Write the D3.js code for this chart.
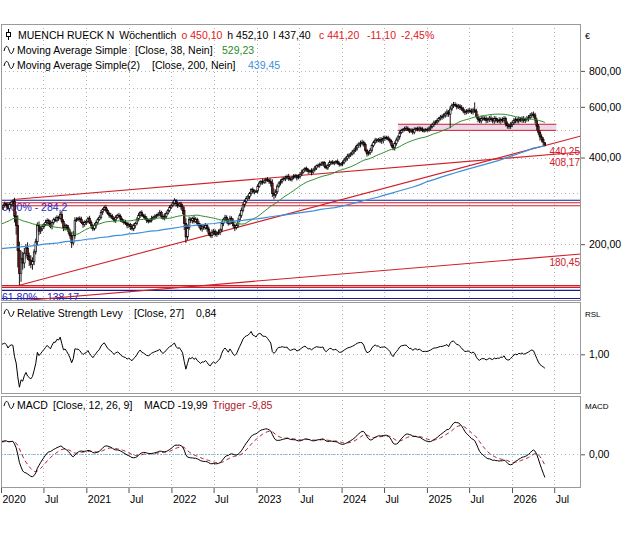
<!DOCTYPE html>
<html>
<head>
<meta charset="utf-8">
<script src="https://cdn.jsdelivr.net/npm/d3@7"></script>
<style>
  body { margin: 0; background: #fff; }
  text { font-family: "Liberation Sans", Arial, sans-serif; }
</style>
</head>
<body>
<div id="chart"></div>
<script>
// weekly closes, one per Friday starting 2020-01-03
const closes = [
  // 2020
  268, 272, 276, 274, 266, 275, 280, 282, 250, 232, 190, 158, 178,
  172, 186, 194, 182, 176, 170, 174, 188, 204, 232, 222, 226, 230,
  234, 238, 242, 236, 230, 238, 244, 242, 248, 246, 254, 240, 228,
  232, 228, 222, 214, 202, 214, 242, 244, 246, 244, 238, 234, 238,
  // 2021
  240, 246, 238, 232, 226, 232, 238, 244, 248, 258, 264, 268, 262,
  256, 252, 250, 246, 242, 248, 252, 250, 244, 240, 238, 236, 232,
  234, 230, 226, 232, 236, 244, 252, 258, 252, 250, 246, 242, 240,
  242, 246, 248, 250, 252, 254, 258, 250, 246, 250, 256, 262, 268, 272,
  // 2022
  278, 284, 276, 272, 276, 270, 262, 236, 212, 228, 244, 242,
  246, 240, 244, 236, 232, 226, 230, 228, 232, 226, 218, 214, 220,
  222, 216, 218, 220, 224, 236, 244, 248, 242, 236, 246, 240, 232, 228,
  232, 242, 252, 262, 274, 282, 288, 292, 300, 310, 304, 306, 306,
  // 2023
  318, 326, 330, 328, 332, 336, 334, 330, 326, 300, 296, 304, 318,
  326, 330, 336, 338, 340, 344, 338, 336, 340, 344, 346, 340, 344,
  350, 356, 362, 366, 362, 358, 360, 356, 362, 368, 374, 376, 378,
  380, 384, 372, 368, 376, 384, 386, 382, 384, 388, 382, 378, 380,
  // 2024
  384, 392, 398, 404, 408, 412, 418, 424, 432, 440, 446, 450, 452,
  444, 424, 412, 416, 424, 440, 452, 460, 458, 462, 456, 462, 466,
  470, 468, 462, 456, 440, 432, 448, 460, 472, 488, 496, 500, 504,
  506, 500, 494, 498, 490, 500, 504, 500, 506, 502, 496, 498, 500,
  // 2025
  500, 506, 512, 520, 528, 532, 538, 546, 552, 556, 562, 568, 576,
  566, 590, 606, 612, 608, 600, 604, 596, 590, 580, 574, 578, 584,
  580, 576, 586, 580, 556, 542, 536, 546, 548, 546, 538, 542, 548,
  542, 536, 546, 538, 540, 536, 542, 538, 546, 524, 516, 512, 520,
  // 2026
  528, 538, 542, 536, 544, 540, 546, 538, 542, 546, 552, 560, 566,
  562, 540, 514, 490, 472, 462, 452.3, 441.2
];

// how far each week's high reached above its body, in euro
const wickUp = [
  4, 3, 5, 3, 6, 4, 3, 4, 8, 10, 20, 14, 12, 10, 8, 6, 9, 5, 7, 6, 4, 5, 6, 8, 5, 4,
  3, 5, 4, 3, 6, 4, 3, 5, 4, 3, 5, 7, 4, 4, 3, 5, 4, 6, 8, 6, 4, 3, 4, 5, 3, 4,
  4, 3, 5, 4, 3, 5, 4, 3, 4, 5, 3, 4, 6, 4, 3, 5, 4, 3, 4, 3, 5, 4, 3, 4, 5, 3,
  4, 3, 5, 4, 3, 4, 5, 3, 4, 3, 5, 4, 3, 4, 5, 3, 4, 3, 4, 5, 3, 4, 6, 4, 3, 5, 4,
  4, 5, 3, 6, 4, 5, 6, 8, 10, 6, 5, 4, 3, 5, 4, 3, 5, 4, 3, 4, 5, 3, 4, 3, 5, 4,
  3, 4, 5, 3, 4, 3, 5, 4, 3, 5, 4, 6, 3, 4, 5, 4, 6, 5, 4, 6, 5, 4, 3, 5, 4, 3,
  5, 6, 4, 7, 5, 4, 6, 5, 8, 10, 7, 6, 5, 4, 6, 5, 4, 6, 5, 7, 4, 5, 6, 5, 4, 6,
  5, 7, 4, 5, 6, 5, 4, 7, 5, 6, 4, 5, 6, 7, 5, 4, 6, 5, 7, 4, 6, 5, 4, 6, 5, 4,
  6, 7, 5, 8, 6, 5, 7, 6, 8, 7, 6, 8, 9, 6, 7, 5, 6, 8, 7, 6, 8, 7, 6, 9, 8, 10,
  7, 6, 8, 7, 6, 8, 7, 9, 6, 8, 7, 6, 8, 9, 7, 6, 8, 7, 9, 6, 8, 7, 6, 8, 7, 6,
  8, 7, 9, 8, 10, 7, 9, 8, 10, 9, 8, 10, 12, 9, 14, 10, 9, 11, 8, 10, 9, 12, 10, 8, 11, 9,
  10, 12, 9, 8, 11, 10, 9, 12, 10, 8, 11, 9, 10, 12, 9, 11, 10, 8, 12, 9, 10, 11, 9, 10, 8, 11,
  9, 11, 10, 8, 12, 9, 10, 11, 9, 12, 10, 11, 9, 12, 10, 11, 9, 8, 10, 9, 0
];
// how far each week's low reached below its body, in euro
const wickDown = [
  3, 5, 4, 6, 3, 5, 4, 3, 12, 16, 24, 14, 10, 9, 7, 8, 6, 8, 5, 7, 5, 4, 6, 7, 5, 4,
  4, 3, 5, 4, 3, 5, 4, 3, 4, 5, 3, 4, 6, 5, 4, 6, 5, 8, 4, 5, 3, 4, 5, 3, 6, 4,
  5, 4, 3, 6, 4, 3, 5, 4, 3, 4, 5, 3, 4, 3, 5, 4, 3, 4, 5, 3, 4, 5, 3, 4, 3, 5,
  4, 6, 3, 4, 5, 3, 4, 5, 3, 4, 3, 5, 4, 3, 4, 3, 5, 4, 3, 4, 5, 3, 4, 5, 3, 4, 3,
  3, 4, 6, 5, 3, 6, 8, 12, 10, 5, 4, 5, 6, 4, 3, 5, 4, 3, 5, 4, 3, 5, 4, 3, 4, 5,
  3, 4, 3, 5, 4, 5, 3, 6, 4, 3, 5, 4, 6, 3, 4, 3, 5, 4, 6, 5, 4, 6, 5, 4, 6, 5,
  6, 4, 5, 6, 4, 7, 5, 6, 9, 8, 10, 6, 5, 4, 6, 5, 4, 7, 5, 6, 5, 6, 4, 5, 7, 4,
  6, 5, 4, 6, 5, 7, 6, 9, 5, 4, 6, 5, 7, 4, 6, 5, 4, 6, 5, 7, 4, 6, 5, 4, 6, 5,
  7, 5, 6, 8, 7, 6, 5, 8, 6, 9, 8, 12, 10, 8, 7, 9, 6, 7, 8, 6, 7, 8, 6, 7, 10, 14,
  9, 7, 6, 8, 7, 6, 9, 8, 7, 10, 6, 8, 7, 9, 6, 8, 7, 9, 8, 6, 7, 8, 9, 6, 8, 7,
  9, 8, 10, 7, 9, 8, 10, 9, 8, 11, 10, 12, 14, 12, 9, 10, 11, 9, 12, 10, 11, 9, 10, 12, 9, 11,
  8, 10, 12, 9, 10, 12, 9, 11, 10, 9, 12, 10, 11, 9, 10, 12, 9, 11, 10, 12, 9, 10, 11, 12, 10, 9,
  10, 9, 12, 10, 11, 9, 12, 10, 11, 9, 12, 10, 11, 12, 14, 16, 12, 14, 10, 12, 0
];

// 2019 weekly closes, only used to warm up the indicators
const warmup2019 = [
  192, 195, 198, 196, 200, 203, 206, 204, 208, 210, 212, 210, 211,
  214, 218, 224, 226, 222, 218, 216, 214, 218, 220, 222, 221, 221,
  223, 226, 224, 222, 216, 212, 210, 214, 218, 226, 232, 238, 240,
  242, 244, 246, 250, 256, 262, 264, 266, 264, 262, 258, 262, 264
];

// weeks with extreme wicks: [week, high, low]
const wicks = [
  ["2020-02-21", 286, 270], ["2020-03-20", 186, 144], ["2022-03-04", 240, 205],
  ["2023-03-17", 312, 288], ["2024-08-09", 446, 424], ["2025-04-11", 596, 506],
  ["2025-04-25", 624, 600], ["2025-07-25", 622, 572]
];
const lastCandle = { open: 450.10, high: 452.10, low: 437.40, close: 441.20 };

// 200 week average, read monthly from Jan 2020 to May 2026
const sma200Monthly = [
  193, 194, 195, 196, 197, 198, 200, 201, 202, 204, 205, 206,
  208, 209, 211, 212, 214, 215, 217, 218, 220, 222, 223, 225,
  227, 229, 231, 232, 234, 235, 236, 238, 239, 241, 242, 244,
  245, 247, 249, 251, 253, 255, 257, 259, 261, 264, 266, 268,
  271, 275, 279, 283, 287, 291, 296, 301, 306, 311, 316, 322,
  330, 336, 342, 348, 354, 360, 366, 372, 378, 384, 390, 398,
  406, 414, 422, 431, 439.45
];

const priceTicks = [200, 400, 600, 800];
const priceGrid = [200, 300, 400, 500, 600, 700, 800];
const rslTicks = [1];
const macdTicks = [0];

const supportLines = [278.6, 272.0, 143.5, 141.6];
const fibLines = [284.2, 138.17, 129.5];
const fibLabels = [[284.2, "0,00% - 284,2"], [138.17, "61,80% - 138,17"]];
const zone = { from: "2024-08-30", to: "2026-07-10", low: 497, high: 522 };
const trendLines = [
  { from: "2020-02-21", v0: 286, to: "2026-05-22", v1: 408.17, label: "408,17" },
  { from: "2020-03-20", v0: 144, to: "2026-05-22", v1: 440.25, label: "440,25" },
  { from: "2020-01-03", v0: 125.5, to: "2026-05-22", v1: 180.45, label: "180,45" }
];

// ---- setup
const W = 640, H = 533;
const left = 1, right = 581;
const panels = { price: [24, 300], rsl: [302, 393], macd: [396, 487] };
const FS = 10.5;
const red = "#e02020", darkRed = "#b0202a", green = "#2a8a2a", blue = "#3d8fdc";
const parse = d3.timeParse("%Y-%m-%d");
const firstWeek = new Date(2020, 0, 3);
const weekDate = i => new Date(2020, 0, 3 + 7 * i);
const weekIndex = d => Math.round((d - firstWeek) / (7 * 864e5));
const locale = d3.formatLocale({ decimal: ",", thousands: ".", grouping: [3], currency: ["", ""] });
const fmt2 = locale.format(".2f");

const x = d3.scaleTime().domain([new Date(2020, 0, 1), new Date(2026, 0, 1)]).range([1, 512]);
const y = d3.scaleLog().domain([100, 1000]).range([330.8, 43.0]);
const yR = d3.scaleLinear().domain([0.6, 1.5]).range([389.3, 310.55]);
const yM = d3.scaleLinear().domain([-30, 40]).range([486.85, 410.9]);

// ---- candles
const wickByWeek = {};
for (const [d, h, l] of wicks) wickByWeek[weekIndex(parse(d))] = [h, l];
const candles = closes.map((c, i) => {
  const open = i ? closes[i - 1] : warmup2019[warmup2019.length - 1];
  const w = wickByWeek[i];
  let high = Math.max(open, c) + wickUp[i], low = Math.min(open, c) - wickDown[i];
  if (w) { high = Math.max(high, w[0]); low = Math.min(low, w[1]); }
  return { date: weekDate(i), open, close: c, high, low };
});
Object.assign(candles[candles.length - 1], lastCandle);

// ---- indicators from the closes
const all = warmup2019.concat(closes);
const off = warmup2019.length;
const smaAt = (n, i) => d3.mean(all.slice(i - n + 1, i + 1));
const ema = (arr, n) => { const k = 2 / (n + 1); let e; return arr.map((v, i) => (e = i ? e + k * (v - e) : v)); };
const sma38 = closes.map((c, i) => ({ date: weekDate(i), v: smaAt(38, i + off) }));
const rsl = closes.map((c, i) => ({ date: weekDate(i), v: c / smaAt(27, i + off) }));
const e12 = ema(all, 12), e26 = ema(all, 26);
const macdAll = all.map((v, i) => e12[i] - e26[i]);
const trigAll = ema(macdAll, 9);
const macd = closes.map((c, i) => ({ date: weekDate(i), v: macdAll[i + off], t: trigAll[i + off] }));
const sma200 = sma200Monthly.map((v, i) => ({
  date: i === sma200Monthly.length - 1 ? weekDate(closes.length - 1) : new Date(2020, i, 3), v
}));

// ---- svg
const svg = d3.select("#chart").append("svg").attr("width", W).attr("height", H);
svg.append("rect").attr("width", W).attr("height", H).attr("fill", "#fff");
const defs = svg.append("defs");
for (const [k, [t, b]] of Object.entries(panels)) {
  defs.append("clipPath").attr("id", "clip-" + k)
    .append("rect").attr("x", left).attr("y", t).attr("width", right - left).attr("height", b - t);
}
const gP = svg.append("g").attr("clip-path", "url(#clip-price)");
const gR = svg.append("g").attr("clip-path", "url(#clip-rsl)");
const gM = svg.append("g").attr("clip-path", "url(#clip-macd)");

// grid
const tickDates = d3.timeMonth.every(6).range(new Date(2020, 0, 1), new Date(2026, 7, 1));
const gridStyle = sel => sel.attr("stroke", "#b4b4b4").attr("stroke-width", 1).attr("stroke-dasharray", "1,3");
for (const [g, k] of [[gP, "price"], [gR, "rsl"], [gM, "macd"]]) {
  const [t, b] = panels[k];
  g.append("g").selectAll("line").data(tickDates).join("line")
    .attr("x1", d => Math.round(x(d)) + 0.5).attr("x2", d => Math.round(x(d)) + 0.5)
    .attr("y1", t).attr("y2", b).call(gridStyle);
}
const hGrid = (g, vals, sc) => g.append("g").selectAll("line").data(vals).join("line")
  .attr("x1", left).attr("x2", right)
  .attr("y1", d => Math.round(sc(d)) + 0.5).attr("y2", d => Math.round(sc(d)) + 0.5)
  .call(gridStyle);
hGrid(gP, priceGrid, y);
hGrid(gR, rslTicks, yR);
hGrid(gM, macdTicks, yM);

// resistance zone
gP.append("rect")
  .attr("x", x(parse(zone.from))).attr("width", x(parse(zone.to)) - x(parse(zone.from)))
  .attr("y", y(zone.high)).attr("height", y(zone.low) - y(zone.high))
  .attr("fill", "#ecd8ec");
gP.append("g").selectAll("line").data([zone.high, zone.low]).join("line")
  .attr("x1", x(parse(zone.from))).attr("x2", x(parse(zone.to)))
  .attr("y1", d => y(d)).attr("y2", d => y(d))
  .attr("stroke", "#d0202a").attr("stroke-width", 1);

// horizontal lines
gP.append("g").selectAll("line").data(supportLines).join("line")
  .attr("x1", left).attr("x2", right).attr("y1", d => y(d)).attr("y2", d => y(d))
  .attr("stroke", "#d0202a").attr("stroke-width", 1.2);
gP.append("g").selectAll("line").data(fibLines).join("line")
  .attr("x1", left).attr("x2", right).attr("y1", d => y(d)).attr("y2", d => y(d))
  .attr("stroke", "#1a1a9a").attr("stroke-width", 1.2);
gP.append("g").selectAll("text").data(fibLabels).join("text")
  .attr("x", 2).attr("y", d => y(d[0]) + 11).attr("font-size", FS).attr("fill", "#2828c8")
  .text(d => d[1]);

// trend lines, extended to the right border
const trendPts = trendLines.map(t => {
  const x1 = x(parse(t.from)), y1 = y(t.v0), x2 = x(parse(t.to)), y2 = y(t.v1);
  const s = (y2 - y1) / (x2 - x1);
  return { ...t, x1, y1, xe: right, ye: y1 + s * (right - x1), yl: y2 };
});
gP.append("g").selectAll("line").data(trendPts).join("line")
  .attr("x1", d => d.x1).attr("y1", d => d.y1).attr("x2", d => d.xe).attr("y2", d => d.ye)
  .attr("stroke", "#d0202a").attr("stroke-width", 1.1);

// candles
const cw = 1.6;
const cg = gP.append("g");
cg.selectAll("line").data(candles).join("line")
  .attr("x1", d => x(d.date)).attr("x2", d => x(d.date))
  .attr("y1", d => y(d.high)).attr("y2", d => y(d.low))
  .attr("stroke", "#000").attr("stroke-width", 0.9);
cg.selectAll("rect").data(candles).join("rect")
  .attr("x", d => x(d.date) - cw / 2).attr("width", cw)
  .attr("y", d => y(Math.max(d.open, d.close)))
  .attr("height", d => Math.max(y(Math.min(d.open, d.close)) - y(Math.max(d.open, d.close)), 1))
  .attr("fill", d => d.close >= d.open ? "#fff" : "#8b1818")
  .attr("stroke", "#000").attr("stroke-width", 0.7);

// moving averages
const lineP = d3.line().x(d => x(d.date)).y(d => y(d.v));
gP.append("path").datum(sma38).attr("d", lineP).attr("fill", "none").attr("stroke", green).attr("stroke-width", 1);
gP.append("path").datum(sma200).attr("d", lineP).attr("fill", "none").attr("stroke", blue).attr("stroke-width", 1.2);

// trend line values at the last week, pushed apart so they do not collide
const lab = trendPts.map(d => ({ label: d.label, by: d.yl + 9 })).sort((a, b) => a.by - b.by);
for (let i = 1; i < lab.length; i++) lab[i].by = Math.max(lab[i].by, lab[i - 1].by + 11.5);
gP.append("g").selectAll("text").data(lab).join("text")
  .attr("x", right - 1).attr("y", d => d.by).attr("text-anchor", "end")
  .attr("font-size", 10).attr("fill", "#d0202a").text(d => d.label);

// RSL
gR.append("path").datum(rsl)
  .attr("d", d3.line().x(d => x(d.date)).y(d => yR(d.v)))
  .attr("fill", "none").attr("stroke", "#000").attr("stroke-width", 1);

// MACD
gM.append("line")
  .attr("x1", x(macd[0].date)).attr("x2", x(macd[macd.length - 1].date))
  .attr("y1", Math.round(yM(0)) + 0.5).attr("y2", Math.round(yM(0)) + 0.5)
  .attr("stroke", "#2f8fc0").attr("stroke-width", 1).attr("stroke-dasharray", "1,2");
gM.append("path").datum(macd)
  .attr("d", d3.line().x(d => x(d.date)).y(d => yM(d.t)))
  .attr("fill", "none").attr("stroke", darkRed).attr("stroke-width", 1).attr("stroke-dasharray", "4,3");
gM.append("path").datum(macd)
  .attr("d", d3.line().x(d => x(d.date)).y(d => yM(d.v)))
  .attr("fill", "none").attr("stroke", "#000").attr("stroke-width", 1);

// panel borders
for (const [t, b] of Object.values(panels)) {
  svg.append("rect").attr("x", left + 0.5).attr("y", t + 0.5).attr("width", right - left - 1).attr("height", b - t)
    .attr("fill", "none").attr("stroke", "#9a9a9a");
}

// axes
const styleAxis = g => {
  g.select(".domain").remove();
  g.selectAll("line").attr("stroke", "#555");
  g.selectAll("text").attr("font-size", FS).attr("fill", "#000").attr("font-family", "Liberation Sans, Arial, sans-serif");
};
for (const sc of [[y, priceTicks], [yR, rslTicks], [yM, macdTicks]]) {
  svg.append("g").attr("transform", `translate(${right},0)`)
    .call(d3.axisRight(sc[0]).tickValues(sc[1]).tickSize(4).tickPadding(4).tickFormat(fmt2)).call(styleAxis);
}
svg.append("g").attr("transform", `translate(0,${panels.macd[1] + 1})`)
  .call(d3.axisBottom(x).tickValues(tickDates).tickSize(5).tickPadding(3)
    .tickFormat(d => d.getMonth() ? "Jul" : d.getFullYear()))
  .call(styleAxis)
  .call(g => g.selectAll("text").attr("text-anchor", "start").attr("x", 1));

// panel units
svg.append("text").attr("x", 585).attr("y", 39).attr("font-size", 9).text("€");
svg.append("text").attr("x", 585).attr("y", 317).attr("font-size", 8).text("RSL");
svg.append("text").attr("x", 585).attr("y", 409).attr("font-size", 8).text("MACD");

// legends: each piece starts at its place in the reference, or after the previous one
const wave = by => svg.append("path")
  .attr("d", `M4,${by - 3} C5.5,${by - 9} 7.5,${by - 9} 9,${by - 4} S12.5,${by + 1} 14,${by - 6}`)
  .attr("fill", "none").attr("stroke", "#000").attr("stroke-width", 1);
const legend = (by, parts) => {
  let end = 0;
  for (const [px, str, col] of parts) {
    const t = svg.append("text").attr("x", Math.max(px, end + 5)).attr("y", by)
      .attr("font-size", FS).attr("fill", col || "#000").text(str);
    end = +t.attr("x") + t.node().getComputedTextLength();
  }
};
// candle glyph
svg.append("line").attr("x1", 8.5).attr("x2", 8.5).attr("y1", 29).attr("y2", 40).attr("stroke", "#000");
svg.append("rect").attr("x", 6.5).attr("y", 32.5).attr("width", 4).attr("height", 4).attr("fill", "#fff").attr("stroke", "#000");
legend(39, [[18, "MUENCH RUECK N"], [113, "Wöchentlich"], [175, "o 450,10", red],
  [223, "h 452,10"], [263, "l 437,40"], [319, "c 441,20", red], [367, "-11,10", red], [397, "-2,45%", red]]);
wave(54);
legend(54, [[17, "Moving Average Simple"], [135, "[Close, 38, Nein]"], [222, "529,23", green]]);
wave(69);
legend(69, [[17, "Moving Average Simple(2)"], [152, "[Close, 200, Nein]"], [248, "439,45", blue]]);
wave(317);
legend(317, [[17, "Relative Strength Levy"], [134, "[Close, 27]"], [196, "0,84"]]);
wave(409);
legend(409, [[17, "MACD"], [53, "[Close, 12, 26, 9]"], [144, "MACD -19,99"], [198, "Trigger -9,85", darkRed]]);
</script>
</body>
</html>
